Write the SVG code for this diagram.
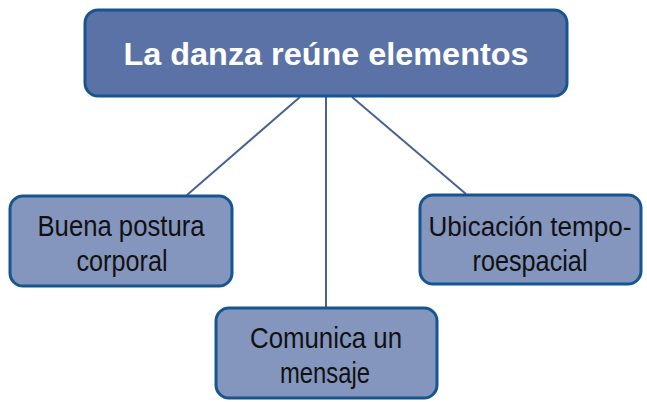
<svg xmlns="http://www.w3.org/2000/svg" width="647" height="402" viewBox="0 0 647 402">
<style>
.box{stroke:#17558f;stroke-width:3}
.top{fill:#5a72a5}
.child{fill:#8495be}
.t{font-family:"Liberation Sans",Arial,sans-serif;font-size:29px;fill:#111;text-anchor:middle}
.title{font-family:"Liberation Sans",Arial,sans-serif;font-size:31px;font-weight:bold;fill:#fff;text-anchor:middle}
.conn line{stroke:#4a6293;stroke-width:2}
</style>
<rect width="647" height="402" fill="#fff"/>
<g class="conn">
<line x1="300" y1="97" x2="187" y2="195"/>
<line x1="326" y1="97" x2="326" y2="308"/>
<line x1="352" y1="97" x2="466" y2="194"/>
</g>
<g id="root">
<rect class="box top" x="85" y="10" width="482" height="86" rx="13"/>
<text class="title" x="326" y="65" textLength="405" lengthAdjust="spacingAndGlyphs">La danza reúne elementos</text>
</g>
<g id="postura">
<rect class="box child" x="10" y="196" width="222" height="90" rx="13"/>
<text class="t" x="121" y="236" textLength="167" lengthAdjust="spacingAndGlyphs">Buena postura</text>
<text class="t" x="122" y="271" textLength="91" lengthAdjust="spacingAndGlyphs">corporal</text>
</g>
<g id="ubicacion">
<rect class="box child" x="420" y="195" width="221" height="89" rx="13"/>
<text class="t" x="530" y="236" font-size="27" style="font-size:27px" textLength="203" lengthAdjust="spacingAndGlyphs">Ubicación tempo-</text>
<text class="t" x="530" y="271" textLength="115" lengthAdjust="spacingAndGlyphs">roespacial</text>
</g>
<g id="mensaje">
<rect class="box child" x="216" y="308" width="221" height="90" rx="13"/>
<text class="t" x="326" y="348" textLength="152" lengthAdjust="spacingAndGlyphs">Comunica un</text>
<text class="t" x="325" y="383" textLength="90" lengthAdjust="spacingAndGlyphs">mensaje</text>
</g>
</svg>
